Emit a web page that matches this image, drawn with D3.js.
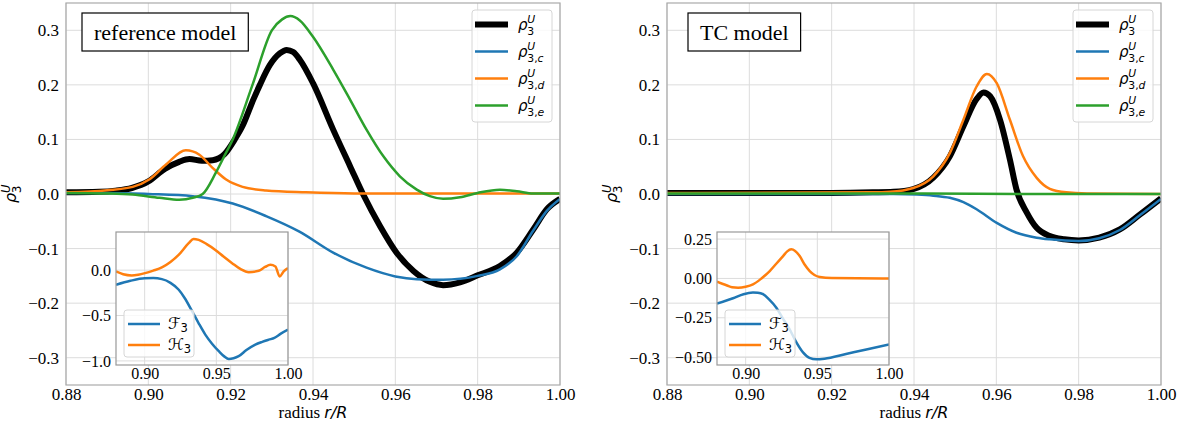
<!DOCTYPE html>
<html>
<head>
<meta charset="utf-8">
<script src="https://cdn.jsdelivr.net/npm/d3@7"></script>
<style>
  body { margin: 0; background: #fff; }
  svg { display: block; }
  .tick text { fill: #000; }
</style>
</head>
<body>
<script>
// radius r/R vs rho_3^U
const xTicks = [0.88, 0.90, 0.92, 0.94, 0.96, 0.98, 1.00];
const yTicks = [-0.3, -0.2, -0.1, 0.0, 0.1, 0.2, 0.3];
const insetXTicks = [0.90, 0.95, 1.00];
const refInsetYTicks = [-1.0, -0.5, 0.0];
const tcInsetYTicks = [-0.50, -0.25, 0.00, 0.25];

const seriesNames = ["3", "3,c", "3,d", "3,e"];
const insetNames = ["F", "H"];

// reference model
const refTotal = [[0.880,0.003],[0.888,0.004],[0.892,0.006],[0.896,0.011],[0.900,0.023],[0.904,0.046],[0.9075,0.059],[0.910,0.064],[0.913,0.061],[0.9156,0.062],[0.9185,0.073],[0.921,0.100],[0.9229,0.125],[0.9255,0.173],[0.9271,0.200],[0.9295,0.236],[0.932,0.258],[0.9336,0.264],[0.9352,0.260],[0.9368,0.246],[0.940,0.203],[0.9449,0.118],[0.949,0.051],[0.9522,-0.001],[0.9563,-0.059],[0.9603,-0.1075],[0.9644,-0.141],[0.9684,-0.161],[0.9716,-0.167],[0.9757,-0.162],[0.980,-0.149],[0.9854,-0.132],[0.9895,-0.1075],[0.9935,-0.065],[0.9968,-0.028],[1.000,-0.009]];
const refC = [[0.880,0.002],[0.890,0.002],[0.900,0.000],[0.9108,-0.004],[0.9164,-0.010],[0.9205,-0.0174],[0.9286,-0.0405],[0.9367,-0.069],[0.9449,-0.1075],[0.953,-0.135],[0.960,-0.151],[0.9652,-0.156],[0.9716,-0.157],[0.980,-0.150],[0.9854,-0.138],[0.9895,-0.114],[0.9935,-0.067],[0.9968,-0.031],[1.000,-0.009]];
const refD = [[0.880,0.003],[0.890,0.007],[0.8962,0.013],[0.9002,0.0265],[0.9043,0.054],[0.9091,0.080],[0.9124,0.072],[0.9156,0.048],[0.9189,0.0265],[0.9229,0.013],[0.9286,0.0064],[0.9383,0.003],[0.950,0.001],[1.000,0.001]];
const refE = [[0.880,0.002],[0.890,0.001],[0.8962,-0.001],[0.9027,-0.007],[0.9075,-0.0106],[0.9108,-0.007],[0.9132,0.000],[0.9164,0.039],[0.9185,0.070],[0.9205,0.100],[0.9253,0.200],[0.930,0.300],[0.9325,0.320],[0.9345,0.326],[0.9368,0.318],[0.940,0.288],[0.9449,0.228],[0.949,0.173],[0.953,0.118],[0.9571,0.069],[0.9611,0.0325],[0.9652,0.008],[0.9684,-0.004],[0.9716,-0.0088],[0.9757,-0.006],[0.980,0.002],[0.9854,0.008],[0.9895,0.005],[0.9935,0.001],[1.000,0.001]];
const refF = [[0.880,-0.162],[0.890,-0.118],[0.900,-0.090],[0.906,-0.088],[0.912,-0.099],[0.918,-0.140],[0.9238,-0.216],[0.928,-0.31],[0.933,-0.45],[0.9375,-0.58],[0.9423,-0.71],[0.947,-0.81],[0.9517,-0.893],[0.9555,-0.95],[0.9587,-0.978],[0.962,-0.97],[0.9656,-0.948],[0.971,-0.88],[0.9772,-0.82],[0.982,-0.79],[0.9866,-0.766],[0.9905,-0.747],[0.995,-0.70],[1.000,-0.656]];
const refH = [[0.880,-0.015],[0.885,-0.045],[0.891,-0.058],[0.8955,-0.05],[0.9002,-0.033],[0.906,-0.005],[0.912,0.03],[0.918,0.09],[0.9237,0.168],[0.9307,0.297],[0.9341,0.344],[0.9377,0.333],[0.943,0.29],[0.9493,0.223],[0.955,0.15],[0.961,0.077],[0.967,0.01],[0.9726,-0.022],[0.9796,-0.007],[0.984,0.035],[0.9877,0.058],[0.9912,0.04],[0.9942,-0.07],[0.997,-0.014],[1.000,0.022]];

// TC model
const tcTotal = [[0.880,0.002],[0.920,0.002],[0.930,0.003],[0.935,0.004],[0.9398,0.009],[0.9447,0.030],[0.9487,0.069],[0.952,0.124],[0.9552,0.174],[0.9569,0.186],[0.9585,0.179],[0.9609,0.136],[0.9633,0.063],[0.9649,0.008],[0.9674,-0.034],[0.9698,-0.062],[0.973,-0.077],[0.9765,-0.083],[0.980,-0.085],[0.985,-0.080],[0.990,-0.065],[0.995,-0.037],[1.000,-0.008]];
const tcC = [[0.880,0.000],[0.935,0.000],[0.9407,-0.001],[0.9447,-0.003],[0.9487,-0.007],[0.952,-0.015],[0.9552,-0.028],[0.9601,-0.053],[0.9649,-0.071],[0.9698,-0.080],[0.973,-0.083],[0.980,-0.086],[0.985,-0.081],[0.990,-0.066],[0.995,-0.038],[1.000,-0.009]];
const tcD = [[0.880,0.002],[0.930,0.003],[0.9342,0.004],[0.9398,0.011],[0.9447,0.0325],[0.9487,0.075],[0.952,0.136],[0.9552,0.197],[0.9577,0.220],[0.9601,0.203],[0.9633,0.136],[0.9665,0.069],[0.9698,0.0296],[0.973,0.0095],[0.977,0.003],[0.982,0.001],[1.000,0.000]];
const tcE = [[0.880,0.001],[0.940,0.001],[0.970,0.000],[1.000,0.000]];
const tcF = [[0.880,-0.16],[0.8912,-0.126],[0.8985,-0.10],[0.9051,-0.09],[0.9085,-0.091],[0.9121,-0.10],[0.9165,-0.135],[0.9214,-0.186],[0.926,-0.255],[0.9307,-0.324],[0.935,-0.40],[0.940,-0.47],[0.9445,-0.505],[0.9493,-0.514],[0.955,-0.51],[0.970,-0.48],[0.985,-0.45],[1.000,-0.419]];
const tcH = [[0.880,-0.021],[0.887,-0.045],[0.8905,-0.056],[0.8947,-0.059],[0.900,-0.053],[0.9051,-0.038],[0.911,0.0],[0.9168,0.047],[0.9215,0.095],[0.9261,0.142],[0.929,0.172],[0.9318,0.185],[0.9345,0.175],[0.9377,0.142],[0.941,0.09],[0.9447,0.047],[0.948,0.022],[0.9517,0.009],[0.960,0.002],[1.000,0.0]];

const colors = ["#000000", "#1f77b4", "#ff7f0e", "#2ca02c"];
const W = 1184, H = 423;
const serif = '"Liberation Serif", "Times New Roman", serif';
const mathFont = '"DejaVu Sans", sans-serif';

const svg = d3.select("body").append("svg")
    .attr("width", W)
    .attr("height", H);

// rho with U on top and a subscript under it, like mathtext does
function rhoLabel(g, x, y, sub, size) {
    g.append("text")
        .attr("x", x).attr("y", y + 5)
        .attr("font-family", mathFont)
        .attr("font-style", "italic")
        .attr("font-size", size)
        .text("ρ");
    g.append("text")
        .attr("x", x + size * 0.62).attr("y", y - 1.5)
        .attr("font-family", mathFont)
        .attr("font-style", "italic")
        .attr("font-size", size * 0.72)
        .text("U");
    const s = g.append("text")
        .attr("x", x + size * 0.62).attr("y", y + 10)
        .attr("font-family", mathFont)
        .attr("font-size", size * 0.72);
    const parts = sub.split(",");
    s.append("tspan").text(parts[0]);
    if (parts[1]) {
        s.append("tspan").text(",");
        s.append("tspan").attr("font-style", "italic").text(parts[1]);
    }
}

function drawPanel(cfg) {
    const left = cfg.left, right = cfg.left + 494, top = 3, bottom = 385;
    const x = d3.scaleLinear().domain([0.88, 1.0]).range([left, right]);
    const y = d3.scaleLinear().domain([-0.35, 0.35]).range([bottom, top]);
    const g = svg.append("g");

    const clipId = "clip-" + cfg.id;
    svg.append("clipPath").attr("id", clipId)
        .append("rect").attr("x", left).attr("y", top)
        .attr("width", right - left).attr("height", bottom - top);

    // grid
    g.append("g").selectAll("line").data(xTicks).join("line")
        .attr("x1", d => x(d)).attr("x2", d => x(d))
        .attr("y1", top).attr("y2", bottom)
        .attr("stroke", "#dcdcdc").attr("stroke-width", 1);
    g.append("g").selectAll("line").data(yTicks).join("line")
        .attr("x1", left).attr("x2", right)
        .attr("y1", d => y(d)).attr("y2", d => y(d))
        .attr("stroke", "#dcdcdc").attr("stroke-width", 1);

    // axes
    const xa = g.append("g").attr("transform", `translate(0,${bottom})`)
        .call(d3.axisBottom(x).tickValues(xTicks).tickFormat(d3.format(".2f")).tickSize(0).tickPadding(3));
    const ya = g.append("g").attr("transform", `translate(${left},0)`)
        .call(d3.axisLeft(y).tickValues(yTicks).tickFormat(d3.format(".1f")).tickSize(0).tickPadding(7));
    [xa, ya].forEach(a => {
        a.select(".domain").remove();
        a.selectAll("text").attr("font-size", 17).attr("font-family", serif);
    });

    // lines
    const line = d3.line().x(d => x(d[0])).y(d => y(d[1])).curve(d3.curveMonotoneX);
    const lg = g.append("g").attr("clip-path", `url(#${clipId})`);
    cfg.series.forEach((s, i) => {
        lg.append("path").datum(s)
            .attr("fill", "none")
            .attr("stroke", colors[i])
            .attr("stroke-width", i === 0 ? 6 : 2.5)
            .attr("stroke-linejoin", "round")
            .attr("d", line);
    });

    // frame
    g.append("rect").attr("x", left).attr("y", top)
        .attr("width", right - left).attr("height", bottom - top)
        .attr("fill", "none").attr("stroke", "#aaaaaa").attr("stroke-width", 1.2);

    // axis labels
    const xl = g.append("text")
        .attr("x", (left + right) / 2).attr("y", 418)
        .attr("text-anchor", "middle")
        .attr("font-size", 17);
    xl.append("tspan").attr("font-family", serif).text("radius ");
    xl.append("tspan").attr("font-family", mathFont).attr("font-style", "italic").attr("font-size", 16).text("r/R");

    const yl = g.append("g").attr("transform", `translate(${left - 68},194) rotate(-90)`);
    rhoLabel(yl, -9, 13, "3", 16);

    // title box
    const tb = g.append("g");
    const tt = tb.append("text")
        .attr("x", left + cfg.titleX).attr("y", 40)
        .attr("font-family", serif).attr("font-size", 22)
        .text(cfg.title);
    const tw = tt.node().getComputedTextLength();
    tb.insert("rect", "text")
        .attr("x", left + cfg.titleX - 12).attr("y", 13)
        .attr("width", tw + 24).attr("height", 38)
        .attr("fill", "#fff").attr("stroke", "#000").attr("stroke-width", 1.2);

    // legend
    const lx = right - 88, ly = 10;
    const leg = g.append("g");
    leg.append("rect").attr("x", lx).attr("y", ly)
        .attr("width", 80).attr("height", 112).attr("rx", 3)
        .attr("fill", "#fff").attr("fill-opacity", 0.8)
        .attr("stroke", "#d6d6d6");
    seriesNames.forEach((n, i) => {
        const yc = ly + 14.5 + i * 27;
        leg.append("line")
            .attr("x1", lx + 3).attr("x2", lx + 36)
            .attr("y1", yc).attr("y2", yc)
            .attr("stroke", colors[i]).attr("stroke-width", i === 0 ? 6 : 2.5);
        rhoLabel(leg, lx + 46, yc, n, 15);
    });

    drawInset(cfg, left);
}

function drawInset(cfg, left) {
    const il = left + 50, ir = left + 222, it = 232, ib = 365;
    const x = d3.scaleLinear().domain([0.88, 1.0]).range([il, ir]);
    const y = d3.scaleLinear().domain(cfg.insetDomain).range([ib, it]);
    const g = svg.append("g");

    g.append("rect").attr("x", il).attr("y", it)
        .attr("width", ir - il).attr("height", ib - it)
        .attr("fill", "#fff");

    const clipId = "iclip-" + cfg.id;
    svg.append("clipPath").attr("id", clipId)
        .append("rect").attr("x", il).attr("y", it)
        .attr("width", ir - il).attr("height", ib - it);

    g.append("g").selectAll("line").data(insetXTicks).join("line")
        .attr("x1", d => x(d)).attr("x2", d => x(d))
        .attr("y1", it).attr("y2", ib)
        .attr("stroke", "#dcdcdc");
    g.append("g").selectAll("line").data(cfg.insetYTicks).join("line")
        .attr("x1", il).attr("x2", ir)
        .attr("y1", d => y(d)).attr("y2", d => y(d))
        .attr("stroke", "#dcdcdc");

    const xa = g.append("g").attr("transform", `translate(0,${ib})`)
        .call(d3.axisBottom(x).tickValues(insetXTicks).tickFormat(d3.format(".2f")).tickSize(0).tickPadding(3));
    const ya = g.append("g").attr("transform", `translate(${il},0)`)
        .call(d3.axisLeft(y).tickValues(cfg.insetYTicks).tickFormat(d3.format(cfg.insetFmt)).tickSize(0).tickPadding(5));
    [xa, ya].forEach(a => {
        a.select(".domain").remove();
        a.selectAll("text").attr("font-size", 16).attr("font-family", serif);
    });

    const line = d3.line().x(d => x(d[0])).y(d => y(d[1])).curve(d3.curveMonotoneX);
    const lg = g.append("g").attr("clip-path", `url(#${clipId})`);
    cfg.inset.forEach((s, i) => {
        lg.append("path").datum(s)
            .attr("fill", "none")
            .attr("stroke", colors[i + 1])
            .attr("stroke-width", 2.5)
            .attr("d", line);
    });

    g.append("rect").attr("x", il).attr("y", it)
        .attr("width", ir - il).attr("height", ib - it)
        .attr("fill", "none").attr("stroke", "#999").attr("stroke-width", 1.2);

    // inset legend
    const lx = il + 8, ly = 310;
    const leg = g.append("g");
    leg.append("rect").attr("x", lx).attr("y", ly)
        .attr("width", 70).attr("height", 47).attr("rx", 3)
        .attr("fill", "#fff").attr("fill-opacity", 0.8)
        .attr("stroke", "#d6d6d6");
    insetNames.forEach((n, i) => {
        const yc = ly + 14 + i * 21;
        leg.append("line")
            .attr("x1", lx + 4).attr("x2", lx + 36)
            .attr("y1", yc).attr("y2", yc)
            .attr("stroke", colors[i + 1]).attr("stroke-width", 2.5);
        const t = leg.append("text")
            .attr("x", lx + 44).attr("y", yc + 5)
            .attr("font-family", mathFont)
            .attr("font-size", 16);
        t.append("tspan").attr("font-style", "italic").text(n === "F" ? "ℱ" : "ℋ");
        t.append("tspan").attr("font-size", 11.5).attr("dy", 3).text("3");
    });
}

drawPanel({
    id: "ref", left: 66, title: "reference model", titleX: 28,
    series: [refTotal, refC, refD, refE],
    inset: [refF, refH], insetDomain: [-1.045, 0.42],
    insetYTicks: refInsetYTicks, insetFmt: ".1f"
});
drawPanel({
    id: "tc", left: 667, title: "TC model", titleX: 33,
    series: [tcTotal, tcC, tcD, tcE],
    inset: [tcF, tcH], insetDomain: [-0.55, 0.295],
    insetYTicks: tcInsetYTicks, insetFmt: ".2f"
});
</script>
</body>
</html>
